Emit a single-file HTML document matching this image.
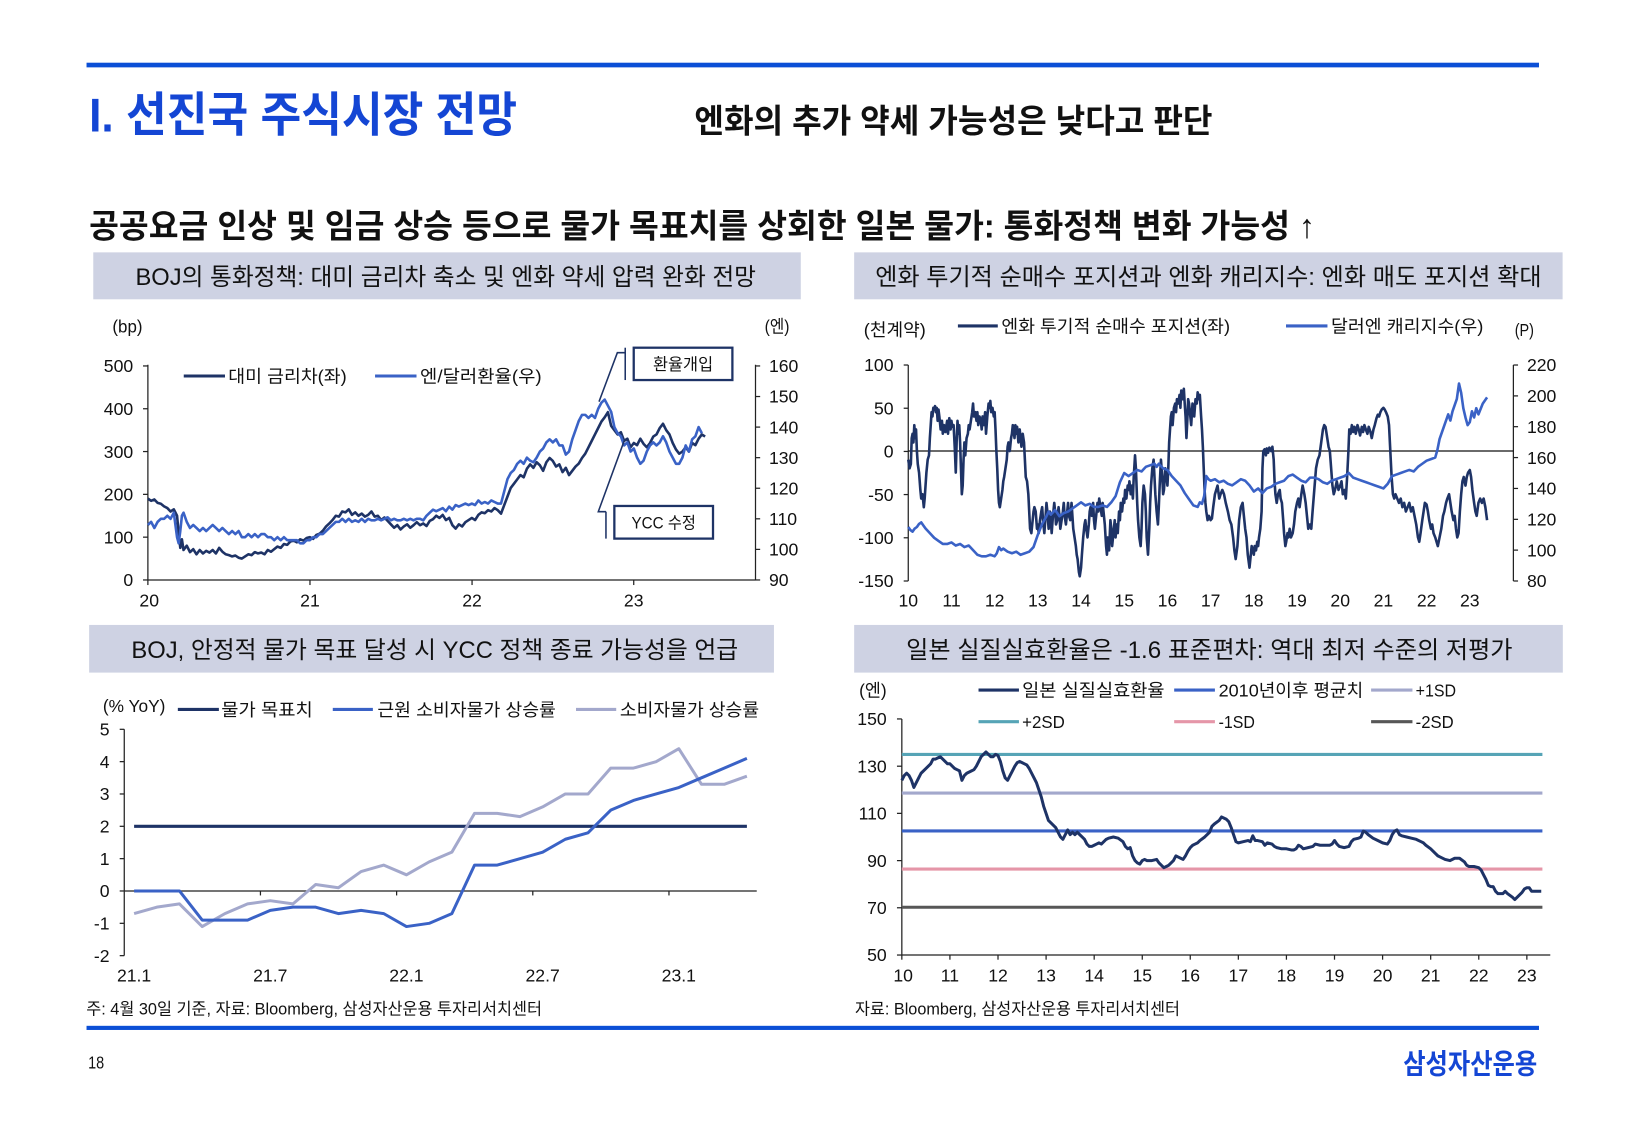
<!DOCTYPE html>
<html><head><meta charset="utf-8"><style>
html,body{margin:0;padding:0;background:#fff;}
svg{display:block;}
text{font-family:"Liberation Sans","Noto Sans CJK KR",sans-serif;fill:#111;}
.t{font-size:17px;}
.k{font-size:17px;}
.hd{font-size:23px;fill:#111;}
.nv{fill:none;stroke:#1e3366;stroke-width:2.6;stroke-linejoin:round;}
.bl{fill:none;stroke:#3a62c6;stroke-width:2.6;stroke-linejoin:round;}
.lt{fill:none;stroke:#a3a8cc;stroke-width:3;stroke-linejoin:round;}
.ax{stroke:#222;stroke-width:1.2;fill:none;}
</style></head><body>
<svg width="1625" height="1125" viewBox="0 0 1568 1085.5" preserveAspectRatio="none" xmlns="http://www.w3.org/2000/svg">
<rect x="0" y="0" width="1568" height="1085.5" fill="#fff"/>
<!-- header -->
<rect x="83.5" y="60.5" width="1401.5" height="4.5" fill="#0b4fd6"/>
<text x="86" y="127" style="font-size:46px;font-weight:700;fill:#1446d4" textLength="413" lengthAdjust="spacingAndGlyphs">I. 선진국 주식시장 전망</text>
<text x="670" y="128" style="font-size:32px;font-weight:700;fill:#111" textLength="500" lengthAdjust="spacingAndGlyphs">엔화의 추가 약세 가능성은 낮다고 판단</text>
<text x="86" y="229" style="font-size:32px;font-weight:700;fill:#111" textLength="1183" lengthAdjust="spacingAndGlyphs">공공요금 인상 및 임금 상승 등으로 물가 목표치를 상회한 일본 물가: 통화정책 변화 가능성 ↑</text>

<!-- panel headers -->
<rect x="90" y="243.5" width="682.7" height="45.3" fill="#ced2e3"/>
<text class="hd" x="130.7" y="275" textLength="598.8" lengthAdjust="spacingAndGlyphs">BOJ의 통화정책: 대미 금리차 축소 및 엔화 약세 압력 완화 전망</text>
<rect x="824.2" y="243.5" width="683.6" height="45.3" fill="#ced2e3"/>
<text class="hd" x="844.5" y="275" textLength="643" lengthAdjust="spacingAndGlyphs">엔화 투기적 순매수 포지션과 엔화 캐리지수: 엔화 매도 포지션 확대</text>
<rect x="86" y="603" width="660.8" height="46" fill="#ced2e3"/>
<text class="hd" x="126.8" y="635" textLength="585.4" lengthAdjust="spacingAndGlyphs">BOJ, 안정적 물가 목표 달성 시 YCC 정책 종료 가능성을 언급</text>
<rect x="824.2" y="603" width="683.8" height="46" fill="#ced2e3"/>
<text class="hd" x="874.4" y="635" textLength="585.1" lengthAdjust="spacingAndGlyphs">일본 실질실효환율은 -1.6 표준편차: 역대 최저 수준의 저평가</text>

<!-- ================= CHART 1 ================= -->
<text class="t" x="108.5" y="321" textLength="29" lengthAdjust="spacingAndGlyphs">(bp)</text>
<text class="t" x="737.8" y="321" textLength="24" lengthAdjust="spacingAndGlyphs">(엔)</text>
<line class="ax" x1="142.7" y1="352" x2="142.7" y2="559.6"/>
<line class="ax" x1="729" y1="352" x2="729" y2="559.6"/>
<line class="ax" x1="142.7" y1="559.6" x2="729" y2="559.6"/>
<g class="ax">
<line x1="138" y1="559.6" x2="142.7" y2="559.6"/><line x1="138" y1="518.3" x2="142.7" y2="518.3"/><line x1="138" y1="477" x2="142.7" y2="477"/><line x1="138" y1="435.7" x2="142.7" y2="435.7"/><line x1="138" y1="394.4" x2="142.7" y2="394.4"/><line x1="138" y1="353.1" x2="142.7" y2="353.1"/>
<line x1="729" y1="559.6" x2="733.5" y2="559.6"/><line x1="729" y1="530.1" x2="733.5" y2="530.1"/><line x1="729" y1="500.6" x2="733.5" y2="500.6"/><line x1="729" y1="471.1" x2="733.5" y2="471.1"/><line x1="729" y1="441.6" x2="733.5" y2="441.6"/><line x1="729" y1="412.1" x2="733.5" y2="412.1"/><line x1="729" y1="382.6" x2="733.5" y2="382.6"/><line x1="729" y1="353.1" x2="733.5" y2="353.1"/>
<line x1="142.7" y1="559.6" x2="142.7" y2="564.5"/><line x1="299.1" y1="559.6" x2="299.1" y2="564.5"/><line x1="455.5" y1="559.6" x2="455.5" y2="564.5"/><line x1="611.5" y1="559.6" x2="611.5" y2="564.5"/>
</g>
<g class="t" text-anchor="end">
<text x="128.5" y="565.6">0</text><text x="128.5" y="524.3">100</text><text x="128.5" y="483">200</text><text x="128.5" y="441.7">300</text><text x="128.5" y="400.4">400</text><text x="128.5" y="359.1">500</text>
</g>
<g class="t">
<text x="742" y="565.6">90</text><text x="742" y="536.1">100</text><text x="742" y="506.6">110</text><text x="742" y="477.1">120</text><text x="742" y="447.6">130</text><text x="742" y="418.1">140</text><text x="742" y="388.6">150</text><text x="742" y="359.1">160</text>
</g>
<g class="t" text-anchor="middle">
<text x="144" y="585">20</text><text x="299.1" y="585">21</text><text x="455.5" y="585">22</text><text x="611.5" y="585">23</text>
</g>
<line x1="177.3" y1="362.8" x2="217.1" y2="362.8" stroke="#1e3366" stroke-width="3"/>
<text class="k" x="220.3" y="369" textLength="114.3" lengthAdjust="spacingAndGlyphs">대미 금리차(좌)</text>
<line x1="361.9" y1="362.8" x2="401.9" y2="362.8" stroke="#3a62c6" stroke-width="3"/>
<text class="k" x="405.3" y="369" textLength="117.4" lengthAdjust="spacingAndGlyphs">엔/달러환율(우)</text>
<polyline class="nv" vector-effect="non-scaling-stroke" transform="translate(142.7,559.6) scale(156.3,-0.413)" points="0,190 .02,185 .04,188 .06,180 .08,178 .1,172 .12,168 .14,160 .16,165 .18,150 .19,110 .2,75 .21,95 .22,70 .24,80 .26,65 .28,72 .3,60 .32,70 .34,62 .36,68 .38,64 .4,70 .42,62 .44,75 .46,66 .48,60 .5,58 .52,55 .54,57 .56,52 .58,50 .6,55 .62,60 .64,58 .66,65 .68,62 .7,64 .72,60 .74,70 .76,66 .78,72 .8,78 .82,75 .84,84 .86,82 .88,90 .9,92 .92,88 .94,95 .96,92 .98,98 1.0,100 1.02,96 1.04,105 1.06,108 1.08,115 1.1,125 1.12,132 1.14,140 1.16,150 1.18,148 1.2,160 1.22,158 1.24,165 1.26,152 1.28,158 1.3,150 1.32,155 1.34,148 1.36,152 1.38,160 1.4,148 1.42,150 1.44,140 1.46,146 1.48,138 1.5,130 1.52,122 1.54,128 1.56,118 1.58,125 1.6,130 1.62,122 1.64,128 1.66,135 1.68,128 1.7,132 1.72,126 1.74,138 1.76,142 1.78,150 1.8,145 1.82,152 1.84,140 1.86,145 1.88,128 1.9,120 1.92,130 1.94,125 1.96,135 1.98,140 2.0,145 2.02,140 2.04,152 2.06,158 2.08,156 2.1,163 2.12,160 2.14,168 2.16,163 2.18,155 2.2,175 2.22,195 2.24,215 2.26,225 2.28,235 2.3,245 2.32,240 2.34,260 2.36,270 2.38,262 2.4,275 2.42,268 2.44,255 2.46,275 2.48,285 2.5,278 2.52,265 2.54,270 2.56,252 2.58,262 2.6,245 2.62,255 2.64,265 2.66,272 2.68,285 2.7,295 2.72,310 2.74,325 2.76,340 2.78,355 2.8,370 2.82,380 2.84,392 2.86,360 2.88,350 2.9,340 2.92,345 2.94,325 2.96,330 2.98,310 3.0,320 3.02,315 3.04,330 3.06,318 3.08,310 3.1,320 3.12,335 3.14,340 3.16,355 3.18,365 3.2,350 3.22,340 3.24,320 3.26,305 3.28,295 3.3,300 3.32,310 3.34,300 3.36,320 3.38,315 3.4,330 3.42,340 3.44,335"/>
<polyline class="bl" vector-effect="non-scaling-stroke" transform="translate(142.7,559.6) scale(156.3,-2.95)" points="0,18 .02,19 .04,17 .06,19 .08,20 .1,20 .12,21 .14,20 .16,22 .18,14 .19,12 .2,16 .21,21 .22,22 .24,19 .26,17 .28,18 .3,17 .32,16 .34,17 .36,16 .38,17 .4,18 .42,17 .44,16 .46,17 .48,16 .5,15 .52,16 .54,15 .56,16 .58,14 .6,14 .62,15 .64,14 .66,15 .68,14 .7,15 .72,15 .74,14 .76,14 .78,13 .8,14 .82,13 .84,14 .86,13 .88,13 .9,13 .92,13 .94,12 .96,12 .98,13 1.0,13 1.02,14 1.04,14 1.06,15 1.08,15 1.1,16 1.12,17 1.14,18 1.16,19 1.18,19 1.2,20 1.22,19 1.24,20 1.26,19 1.28,19.5 1.3,19 1.32,20 1.34,19 1.36,20 1.38,19.5 1.4,19.5 1.42,20 1.44,19.5 1.46,20 1.48,20.5 1.5,19.5 1.52,20 1.54,19.5 1.56,19.5 1.58,20 1.6,19.5 1.62,20 1.64,19.5 1.66,20 1.68,20 1.7,19.5 1.72,21 1.74,22 1.76,23 1.78,22.5 1.8,23 1.82,23.5 1.84,22.5 1.86,24 1.88,23 1.9,24.5 1.92,24 1.94,24.5 1.96,25 1.98,24.5 2.0,25 2.02,24.5 2.04,26 2.06,25 2.08,25.5 2.1,25 2.12,26 2.14,25.5 2.16,25 2.18,25 2.2,29 2.22,33 2.24,35 2.26,36 2.28,38 2.3,39 2.32,38 2.34,40 2.36,39 2.38,38.5 2.4,40 2.42,42 2.44,43 2.46,45 2.48,46 2.5,45 2.52,46 2.54,44 2.56,44 2.58,41 2.6,42 2.62,46 2.64,49 2.66,52 2.68,54 2.7,54 2.72,53 2.74,54 2.76,53 2.78,56 2.8,58 2.82,59 2.84,57 2.86,55 2.88,50 2.9,48 2.92,47 2.94,44 2.96,45 2.98,42 3.0,43 3.02,40 3.04,38 3.06,39 3.08,42 3.1,44 3.12,45 3.14,44 3.16,45 3.18,47 3.2,45 3.22,42 3.24,40 3.26,38 3.28,38 3.3,40 3.32,44 3.34,42 3.36,46 3.38,47 3.4,50 3.42,48"/>
<!-- callouts -->
<rect x="611.5" y="335.5" width="95.2" height="31.2" fill="#fff" stroke="#1e3366" stroke-width="2.2"/>
<text x="659.1" y="357" text-anchor="middle" style="font-size:16px" textLength="58" lengthAdjust="spacingAndGlyphs">환율개입</text>
<line x1="603.3" y1="335.5" x2="603.3" y2="366.7" stroke="#1e3366" stroke-width="1.5"/>
<polyline points="603.3,340.3 595.7,340.3 578,387.6" fill="none" stroke="#1e3366" stroke-width="1.5"/>
<rect x="592.8" y="488.2" width="95.2" height="31.5" fill="#fff" stroke="#1e3366" stroke-width="2.2"/>
<text x="640.4" y="510" text-anchor="middle" style="font-size:16px" textLength="62" lengthAdjust="spacingAndGlyphs">YCC 수정</text>
<line x1="584.7" y1="493.7" x2="584.7" y2="519.7" stroke="#1e3366" stroke-width="1.5"/>
<polyline points="584.7,493.7 577.3,493.7 602.6,424.5" fill="none" stroke="#1e3366" stroke-width="1.5"/>

<!-- ================= CHART 2 ================= -->
<text class="t" x="833.5" y="324" textLength="59.8" lengthAdjust="spacingAndGlyphs">(천계약)</text>
<text class="t" x="1461.6" y="324" textLength="18.6" lengthAdjust="spacingAndGlyphs">(P)</text>
<line x1="924.3" y1="314.5" x2="962.8" y2="314.5" stroke="#1e3366" stroke-width="3"/>
<text class="k" x="966.3" y="321" textLength="220.6" lengthAdjust="spacingAndGlyphs">엔화 투기적 순매수 포지션(좌)</text>
<line x1="1240.9" y1="314.5" x2="1280.9" y2="314.5" stroke="#3a62c6" stroke-width="3"/>
<text class="k" x="1284.3" y="321" textLength="147" lengthAdjust="spacingAndGlyphs">달러엔 캐리지수(우)</text>
<line class="ax" x1="876.4" y1="352.2" x2="876.4" y2="560.6"/>
<line class="ax" x1="1460.3" y1="352.2" x2="1460.3" y2="560.6"/>
<line x1="876.4" y1="435.2" x2="1460.3" y2="435.2" stroke="#111" stroke-width="1.2"/>
<g class="ax">
<line x1="872" y1="352.2" x2="876.4" y2="352.2"/><line x1="872" y1="393.9" x2="876.4" y2="393.9"/><line x1="872" y1="435.6" x2="876.4" y2="435.6"/><line x1="872" y1="477.2" x2="876.4" y2="477.2"/><line x1="872" y1="518.9" x2="876.4" y2="518.9"/><line x1="872" y1="560.6" x2="876.4" y2="560.6"/>
<line x1="1460.3" y1="352.2" x2="1464.8" y2="352.2"/><line x1="1460.3" y1="382" x2="1464.8" y2="382"/><line x1="1460.3" y1="411.7" x2="1464.8" y2="411.7"/><line x1="1460.3" y1="441.5" x2="1464.8" y2="441.5"/><line x1="1460.3" y1="471.3" x2="1464.8" y2="471.3"/><line x1="1460.3" y1="501.1" x2="1464.8" y2="501.1"/><line x1="1460.3" y1="530.8" x2="1464.8" y2="530.8"/><line x1="1460.3" y1="560.6" x2="1464.8" y2="560.6"/>
</g>
<g class="t" text-anchor="end">
<text x="862.2" y="358.2">100</text><text x="862.2" y="399.9">50</text><text x="862.2" y="441.6">0</text><text x="862.2" y="483.2">-50</text><text x="862.2" y="524.9">-100</text><text x="862.2" y="566.6">-150</text>
</g>
<g class="t">
<text x="1473.4" y="358.2">220</text><text x="1473.4" y="388">200</text><text x="1473.4" y="417.7">180</text><text x="1473.4" y="447.5">160</text><text x="1473.4" y="477.3">140</text><text x="1473.4" y="507.1">120</text><text x="1473.4" y="536.8">100</text><text x="1473.4" y="566.6">80</text>
</g>
<g class="t" text-anchor="middle">
<text x="876.4" y="585">10</text><text x="918.1" y="585">11</text><text x="959.8" y="585">12</text><text x="1001.4" y="585">13</text><text x="1043.1" y="585">14</text><text x="1084.8" y="585">15</text><text x="1126.5" y="585">16</text><text x="1168.2" y="585">17</text><text x="1209.8" y="585">18</text><text x="1251.5" y="585">19</text><text x="1293.2" y="585">20</text><text x="1334.9" y="585">21</text><text x="1376.6" y="585">22</text><text x="1418.2" y="585">23</text>
</g>
<polyline class="nv" vector-effect="non-scaling-stroke" transform="translate(876.4,435.2) scale(41.68,-0.8336)" points="0,-10 .03,-20 .06,-15 .08,15 .1,20 .12,10 .14,30 .16,15 .18,25 .2,0 .22,-15 .25,-25 .28,-45 .3,-55 .33,-50 .36,-65 .38,-55 .4,-40 .42,-25 .45,-10 .48,-5 .5,15 .52,30 .54,45 .56,40 .58,50 .6,48 .62,52 .64,45 .66,50 .68,35 .7,48 .72,40 .75,25 .78,35 .8,20 .83,30 .86,22 .9,35 .92,20 .95,38 .98,25 1.0,35 1.02,28 1.05,30 1.08,0 1.1,-25 1.12,10 1.14,35 1.16,20 1.18,30 1.2,10 1.22,-20 1.24,-50 1.26,-40 1.28,-10 1.3,10 1.32,-5 1.35,15 1.38,20 1.4,30 1.42,25 1.45,35 1.48,45 1.5,55 1.52,40 1.55,45 1.58,35 1.6,45 1.62,30 1.65,40 1.68,35 1.7,25 1.72,40 1.75,30 1.78,45 1.8,20 1.83,40 1.86,55 1.88,50 1.9,58 1.92,45 1.95,50 1.98,40 2.0,45 2.02,25 2.04,0 2.06,-20 2.08,-45 2.1,-60 2.12,-65 2.15,-55 2.18,-45 2.2,-35 2.22,-30 2.25,-20 2.28,-10 2.3,5 2.32,10 2.35,0 2.38,15 2.4,20 2.42,30 2.44,25 2.46,15 2.48,30 2.5,20 2.52,28 2.55,10 2.58,25 2.6,15 2.62,5 2.65,20 2.68,10 2.7,-10 2.72,-30 2.75,-35 2.78,-50 2.8,-70 2.82,-90 2.85,-95 2.88,-80 2.9,-70 2.92,-65 2.95,-70 2.98,-90 3.0,-85 3.02,-95 3.05,-80 3.08,-70 3.1,-65 3.12,-80 3.15,-95 3.18,-75 3.2,-60 3.22,-70 3.25,-90 3.28,-70 3.3,-80 3.32,-95 3.35,-75 3.38,-60 3.4,-70 3.42,-85 3.45,-80 3.48,-65 3.5,-75 3.52,-90 3.55,-80 3.58,-70 3.6,-60 3.62,-75 3.65,-85 3.68,-70 3.7,-60 3.72,-75 3.75,-80 3.78,-60 3.8,-75 3.82,-90 3.85,-100 3.88,-110 3.9,-120 3.92,-125 3.95,-140 3.97,-145 4.0,-135 4.02,-120 4.05,-100 4.08,-85 4.1,-80 4.12,-90 4.15,-100 4.18,-85 4.2,-70 4.22,-65 4.25,-75 4.28,-60 4.3,-80 4.32,-90 4.35,-75 4.38,-60 4.4,-70 4.42,-55 4.45,-65 4.48,-75 4.5,-60 4.52,-70 4.55,-85 4.58,-110 4.6,-120 4.62,-100 4.65,-115 4.68,-80 4.7,-90 4.72,-110 4.75,-95 4.78,-80 4.8,-100 4.82,-85 4.85,-95 4.88,-70 4.9,-80 4.92,-60 4.95,-70 4.98,-55 5.0,-60 5.02,-45 5.05,-55 5.08,-40 5.1,-45 5.12,-35 5.15,-50 5.18,-40 5.2,-55 5.22,-30 5.25,-5 5.27,-20 5.3,-60 5.32,-80 5.35,-100 5.38,-110 5.4,-90 5.42,-60 5.45,-40 5.48,-50 5.5,-70 5.52,-100 5.55,-120 5.58,-90 5.6,-60 5.62,-40 5.65,-20 5.68,-10 5.7,-30 5.72,-50 5.75,-70 5.78,-85 5.8,-65 5.82,-40 5.85,-10 5.88,-30 5.9,-50 5.92,-45 5.95,-20 5.98,-30 6.0,-40 6.02,-20 6.04,10 6.06,25 6.08,40 6.1,45 6.12,30 6.15,50 6.18,55 6.2,45 6.22,60 6.25,55 6.28,65 6.3,50 6.32,70 6.35,60 6.38,72 6.4,55 6.42,40 6.44,15 6.46,35 6.48,60 6.5,55 6.52,45 6.55,30 6.58,55 6.6,50 6.62,40 6.65,60 6.68,55 6.7,68 6.72,60 6.75,65 6.78,40 6.8,25 6.82,5 6.84,-20 6.86,-45 6.88,-60 6.9,-70 6.93,-80 6.96,-75 7.0,-80 7.03,-78 7.06,-65 7.1,-50 7.13,-45 7.16,-40 7.2,-55 7.23,-50 7.27,-45 7.31,-50 7.35,-60 7.4,-70 7.44,-80 7.48,-85 7.52,-100 7.55,-115 7.58,-125 7.62,-110 7.66,-80 7.7,-65 7.74,-60 7.77,-75 7.8,-90 7.83,-100 7.86,-120 7.9,-135 7.92,-125 7.95,-110 7.98,-115 8.0,-120 8.02,-110 8.05,-115 8.08,-105 8.1,-110 8.12,-100 8.15,-90 8.18,-70 8.2,-20 8.22,0 8.25,2 8.28,-5 8.3,3 8.33,-2 8.36,4 8.4,0 8.43,5 8.46,-10 8.48,-35 8.5,-50 8.53,-60 8.56,-50 8.6,-45 8.62,-55 8.65,-60 8.68,-80 8.7,-95 8.73,-110 8.75,-105 8.78,-95 8.8,-100 8.83,-90 8.86,-100 8.9,-95 8.93,-85 8.96,-70 9.0,-60 9.03,-55 9.06,-65 9.1,-50 9.13,-40 9.17,-50 9.2,-60 9.23,-75 9.26,-90 9.3,-85 9.33,-90 9.36,-70 9.4,-45 9.44,-20 9.48,-10 9.52,-5 9.56,10 9.6,25 9.63,30 9.66,28 9.7,15 9.73,5 9.76,0 9.79,-20 9.82,-40 9.85,-50 9.88,-45 9.92,-35 9.96,-45 10.0,-40 10.03,-35 10.06,-50 10.1,-45 10.13,-55 10.16,-30 10.19,0 10.21,25 10.24,20 10.27,30 10.3,22 10.33,28 10.36,20 10.4,30 10.43,25 10.46,18 10.5,28 10.53,22 10.56,30 10.6,24 10.63,20 10.66,28 10.7,22 10.73,15 10.77,25 10.8,30 10.84,38 10.87,42 10.9,40 10.93,45 10.96,48 11.0,50 11.03,48 11.06,45 11.1,40 11.13,30 11.16,0 11.19,-30 11.22,-50 11.25,-55 11.28,-50 11.32,-55 11.36,-60 11.4,-55 11.44,-65 11.48,-60 11.52,-70 11.56,-65 11.6,-60 11.64,-70 11.68,-65 11.72,-75 11.76,-85 11.8,-100 11.83,-105 11.86,-95 11.9,-80 11.93,-70 11.96,-60 12.0,-62 12.03,-70 12.06,-80 12.1,-90 12.13,-85 12.16,-95 12.2,-100 12.23,-105 12.26,-110 12.3,-100 12.34,-90 12.38,-75 12.41,-70 12.45,-60 12.48,-55 12.52,-50 12.55,-60 12.58,-70 12.62,-80 12.65,-75 12.68,-90 12.71,-100 12.74,-95 12.77,-70 12.8,-50 12.83,-35 12.86,-30 12.9,-40 12.93,-30 12.96,-25 13.0,-22 13.03,-30 13.06,-45 13.1,-60 13.13,-70 13.16,-75 13.2,-60 13.24,-55 13.28,-60 13.32,-55 13.36,-65 13.4,-80"/>
<polyline class="bl" vector-effect="non-scaling-stroke" transform="translate(876.4,560.6) scale(41.68,-1.4886)" points="0,35 .05,33 .1,32 .15,34 .2,35 .25,37 .3,38 .35,36 .4,34 .5,31 .6,28 .7,26 .8,24 .9,24 1.0,25 1.1,23 1.2,24 1.3,22 1.4,23 1.5,20 1.6,17 1.7,16 1.8,16 1.9,17 2.0,16 2.05,18 2.1,22 2.15,20 2.2,21 2.3,19 2.4,18 2.5,19 2.6,17 2.7,18 2.8,19 2.9,22 3.0,30 3.1,37 3.2,42 3.25,45 3.3,43 3.4,46 3.5,42 3.6,44 3.7,45 3.8,47 3.9,49 4.0,51 4.1,49 4.2,50 4.3,48 4.4,48 4.5,49 4.6,48 4.7,51 4.8,55 4.9,64 5.0,70 5.1,68 5.2,70 5.3,72 5.4,71 5.5,74 5.6,75 5.7,76 5.75,74 5.8,76 5.9,73 6.0,72 6.1,68 6.2,65 6.3,62 6.4,57 6.5,53 6.6,49 6.7,48 6.75,51 6.8,50 6.85,55 6.9,68 6.95,66 7.0,65 7.1,66 7.2,64 7.3,65 7.4,63 7.5,62 7.6,64 7.7,66 7.8,65 7.9,62 8.0,58 8.1,60 8.2,57 8.3,60 8.4,61 8.5,63 8.6,64 8.7,65 8.8,68 8.9,69 9.0,67 9.1,65 9.2,64 9.3,67 9.4,67 9.5,66 9.6,64 9.7,63 9.8,65 9.9,66 10.0,67 10.1,68 10.2,70 10.3,67 10.4,66 10.5,65 10.6,64 10.7,63 10.8,62 10.9,61 11.0,60 11.1,63 11.2,68 11.3,69 11.4,70 11.5,71 11.6,72 11.7,71 11.8,74 11.9,76 12.0,78 12.1,79 12.2,80 12.25,85 12.3,92 12.4,100 12.5,108 12.55,104 12.6,110 12.7,118 12.75,128 12.8,122 12.85,112 12.9,106 12.95,101 13.0,103 13.05,110 13.1,106 13.15,112 13.2,108 13.3,115 13.4,119"/>

<!-- ================= CHART 3 ================= -->
<text class="t" x="99.3" y="687" textLength="60.3" lengthAdjust="spacingAndGlyphs">(% YoY)</text>
<line x1="171.6" y1="684.5" x2="211.2" y2="684.5" stroke="#1e3366" stroke-width="3"/>
<text class="k" x="213.5" y="691" textLength="88.3" lengthAdjust="spacingAndGlyphs">물가 목표치</text>
<line x1="321.1" y1="684.5" x2="359.8" y2="684.5" stroke="#3a62c6" stroke-width="3"/>
<text class="k" x="364.1" y="691" textLength="172.3" lengthAdjust="spacingAndGlyphs">근원 소비자물가 상승률</text>
<line x1="555.8" y1="684.5" x2="594.6" y2="684.5" stroke="#a3a8cc" stroke-width="3"/>
<text class="k" x="598.1" y="691" textLength="134.4" lengthAdjust="spacingAndGlyphs">소비자물가 상승률</text>
<line class="ax" x1="119.9" y1="703.7" x2="119.9" y2="922.1"/>
<line class="ax" x1="119.9" y1="859.7" x2="730.2" y2="859.7"/>
<g class="ax">
<line x1="115.5" y1="703.7" x2="119.9" y2="703.7"/><line x1="115.5" y1="734.9" x2="119.9" y2="734.9"/><line x1="115.5" y1="766.1" x2="119.9" y2="766.1"/><line x1="115.5" y1="797.3" x2="119.9" y2="797.3"/><line x1="115.5" y1="828.5" x2="119.9" y2="828.5"/><line x1="115.5" y1="859.7" x2="119.9" y2="859.7"/><line x1="115.5" y1="890.9" x2="119.9" y2="890.9"/><line x1="115.5" y1="922.1" x2="119.9" y2="922.1"/>
<line x1="251.3" y1="859.7" x2="251.3" y2="864"/><line x1="382.7" y1="859.7" x2="382.7" y2="864"/><line x1="514.1" y1="859.7" x2="514.1" y2="864"/><line x1="645.5" y1="859.7" x2="645.5" y2="864"/>
</g>
<g class="t" text-anchor="end">
<text x="105.7" y="709.7">5</text><text x="105.7" y="740.9">4</text><text x="105.7" y="772.1">3</text><text x="105.7" y="803.3">2</text><text x="105.7" y="834.5">1</text><text x="105.7" y="865.7">0</text><text x="105.7" y="896.9">-1</text><text x="105.7" y="928.1">-2</text>
</g>
<g class="t" text-anchor="middle">
<text x="129.4" y="947">21.1</text><text x="260.8" y="947">21.7</text><text x="392.2" y="947">22.1</text><text x="523.6" y="947">22.7</text><text x="655" y="947">23.1</text>
</g>
<line x1="129.4" y1="797.3" x2="720.7" y2="797.3" stroke="#1e3366" stroke-width="3"/>
<polyline class="lt" vector-effect="non-scaling-stroke" transform="translate(129.4,859.7) scale(21.9,-31.2)" points="0,-0.7 1,-0.5 2,-0.4 3,-1.1 4,-0.7 5,-0.4 6,-0.3 7,-0.4 8,0.2 9,0.1 10,0.6 11,0.8 12,0.5 13,0.9 14,1.2 15,2.4 16,2.4 17,2.3 18,2.6 19,3.0 20,3.0 21,3.8 22,3.8 23,4.0 24,4.4 25,3.3 26,3.3 27,3.55"/>
<polyline class="bl" style="stroke-width:3" vector-effect="non-scaling-stroke" transform="translate(129.4,859.7) scale(21.9,-31.2)" points="0,0 1,0 2,0 3,-0.9 4,-0.9 5,-0.9 6,-0.6 7,-0.5 8,-0.5 9,-0.7 10,-0.6 11,-0.7 12,-1.1 13,-1.0 14,-0.7 15,0.8 16,0.8 17,1.0 18,1.2 19,1.6 20,1.8 21,2.5 22,2.8 23,3.0 24,3.2 25,3.5 26,3.8 27,4.1"/>

<!-- ================= CHART 4 ================= -->
<text class="t" x="829" y="672" textLength="26.6" lengthAdjust="spacingAndGlyphs">(엔)</text>
<line x1="944.2" y1="665.8" x2="983.2" y2="665.8" stroke="#1e3366" stroke-width="3"/>
<text class="k" x="986.3" y="672" textLength="137.4" lengthAdjust="spacingAndGlyphs">일본 실질실효환율</text>
<line x1="1133" y1="665.8" x2="1172.3" y2="665.8" stroke="#3a62c6" stroke-width="3"/>
<text class="k" x="1175.9" y="672" textLength="139.5" lengthAdjust="spacingAndGlyphs">2010년이후 평균치</text>
<line x1="1323" y1="665.8" x2="1362.9" y2="665.8" stroke="#a3a8cc" stroke-width="3"/>
<text class="k" x="1366" y="672" textLength="39" lengthAdjust="spacingAndGlyphs">+1SD</text>
<line x1="944.2" y1="696.3" x2="983.2" y2="696.3" stroke="#56a4b6" stroke-width="3"/>
<text class="k" x="986.3" y="702.5" textLength="41.2" lengthAdjust="spacingAndGlyphs">+2SD</text>
<line x1="1133" y1="696.3" x2="1172.3" y2="696.3" stroke="#e596a8" stroke-width="3"/>
<text class="k" x="1175.9" y="702.5" textLength="35" lengthAdjust="spacingAndGlyphs">-1SD</text>
<line x1="1323" y1="696.3" x2="1362.9" y2="696.3" stroke="#575757" stroke-width="3"/>
<text class="k" x="1366" y="702.5" textLength="36.7" lengthAdjust="spacingAndGlyphs">-2SD</text>
<line class="ax" x1="870.2" y1="693.7" x2="870.2" y2="921.5"/>
<line class="ax" x1="870.2" y1="921.5" x2="1495.9" y2="921.5"/>
<g class="ax">
<line x1="865.5" y1="693.7" x2="870.2" y2="693.7"/><line x1="865.5" y1="739.3" x2="870.2" y2="739.3"/><line x1="865.5" y1="784.8" x2="870.2" y2="784.8"/><line x1="865.5" y1="830.4" x2="870.2" y2="830.4"/><line x1="865.5" y1="875.9" x2="870.2" y2="875.9"/><line x1="865.5" y1="921.5" x2="870.2" y2="921.5"/>
<line x1="870.2" y1="921.5" x2="870.2" y2="926"/><line x1="916.6" y1="921.5" x2="916.6" y2="926"/><line x1="963" y1="921.5" x2="963" y2="926"/><line x1="1009.4" y1="921.5" x2="1009.4" y2="926"/><line x1="1055.8" y1="921.5" x2="1055.8" y2="926"/><line x1="1102.2" y1="921.5" x2="1102.2" y2="926"/><line x1="1148.5" y1="921.5" x2="1148.5" y2="926"/><line x1="1194.9" y1="921.5" x2="1194.9" y2="926"/><line x1="1241.3" y1="921.5" x2="1241.3" y2="926"/><line x1="1287.7" y1="921.5" x2="1287.7" y2="926"/><line x1="1334.1" y1="921.5" x2="1334.1" y2="926"/><line x1="1380.5" y1="921.5" x2="1380.5" y2="926"/><line x1="1426.9" y1="921.5" x2="1426.9" y2="926"/><line x1="1473.3" y1="921.5" x2="1473.3" y2="926"/>
</g>
<g class="t" text-anchor="end">
<text x="855.6" y="699.7">150</text><text x="855.6" y="745.3">130</text><text x="855.6" y="790.8">110</text><text x="855.6" y="836.4">90</text><text x="855.6" y="881.9">70</text><text x="855.6" y="927.5">50</text>
</g>
<g class="t" text-anchor="middle">
<text x="871.5" y="947">10</text><text x="916.6" y="947">11</text><text x="963" y="947">12</text><text x="1009.4" y="947">13</text><text x="1055.8" y="947">14</text><text x="1102.2" y="947">15</text><text x="1148.5" y="947">16</text><text x="1194.9" y="947">17</text><text x="1241.3" y="947">18</text><text x="1287.7" y="947">19</text><text x="1334.1" y="947">20</text><text x="1380.5" y="947">21</text><text x="1426.9" y="947">22</text><text x="1473.3" y="947">23</text>
</g>
<line x1="870.2" y1="727.9" x2="1488.3" y2="727.9" stroke="#56a4b6" stroke-width="3"/>
<line x1="870.2" y1="765.2" x2="1488.3" y2="765.2" stroke="#a3a8cc" stroke-width="3"/>
<line x1="870.2" y1="801.8" x2="1488.3" y2="801.8" stroke="#3a62c6" stroke-width="3"/>
<line x1="870.2" y1="838.5" x2="1488.3" y2="838.5" stroke="#e596a8" stroke-width="3"/>
<line x1="870.2" y1="875.4" x2="1488.3" y2="875.4" stroke="#575757" stroke-width="3"/>
<polyline class="nv" style="stroke-width:3" vector-effect="non-scaling-stroke" transform="translate(870.2,921.5) scale(46.39,-2.278)" points="0,74 .05,76 .1,77 .15,76 .2,74 .25,71 .3,73 .35,75 .4,77 .5,79 .6,81 .65,83 .7,83 .75,83.5 .8,84 .85,83 .9,82 .95,81 1.0,81 1.05,80 1.1,79 1.15,78.5 1.2,78 1.25,74 1.3,76 1.35,77 1.45,78 1.5,78.5 1.55,80 1.6,82 1.65,84 1.7,85 1.75,86 1.8,85 1.85,84 1.9,84 1.95,85 2.0,84.5 2.05,82 2.1,78 2.15,75 2.2,74 2.25,76 2.3,78 2.35,80 2.4,81.5 2.45,82 2.5,81.5 2.55,81 2.6,80.5 2.65,79 2.7,77 2.75,75 2.8,73 2.85,70 2.9,67 2.95,63 3.0,60 3.05,57 3.1,56 3.15,55 3.2,54 3.25,52 3.3,50 3.35,49 3.4,51 3.45,53 3.5,51 3.55,52 3.6,51 3.65,52 3.7,51 3.75,50 3.8,49 3.85,47 3.9,46 3.95,46 4.0,46.5 4.05,47 4.1,47.5 4.15,47 4.2,48 4.25,49 4.3,49.5 4.4,50 4.5,49.5 4.6,48 4.65,46 4.7,45 4.75,45.5 4.8,42 4.85,40 4.9,39 4.95,38.5 5.0,40 5.05,40.5 5.1,40 5.2,40 5.3,40.5 5.35,39 5.4,38 5.45,37 5.5,37.5 5.55,38 5.6,39 5.65,40 5.7,42 5.75,41.5 5.8,41 5.85,40.5 5.9,42 5.95,44 6.0,45.5 6.05,46.5 6.1,47 6.15,47.5 6.2,48.5 6.3,50 6.4,52 6.45,54.5 6.5,55.5 6.6,57 6.65,58.5 6.7,58 6.75,57.5 6.8,56.5 6.85,54 6.9,51 6.95,48 7.0,47.5 7.1,48 7.2,48.5 7.25,48 7.3,50.5 7.35,48.5 7.4,48.5 7.5,48 7.55,46.5 7.6,47.5 7.7,47 7.75,46 7.8,45.5 7.9,45 8.0,45 8.1,44.5 8.15,44.5 8.2,45 8.25,46.5 8.3,46 8.35,45 8.45,45.5 8.55,46 8.6,47 8.7,46.5 8.8,46.5 8.9,46.5 8.95,47 9.0,48.5 9.05,47 9.1,46 9.2,45.5 9.3,46 9.35,48 9.4,49 9.5,49.5 9.55,50 9.6,52.5 9.65,52 9.7,51 9.8,49.5 9.9,48.5 10.0,47.5 10.1,47 10.15,48.5 10.2,51 10.25,52.5 10.3,53 10.35,51 10.4,50.5 10.5,50 10.6,49.5 10.7,49 10.8,48 10.85,47.5 10.9,46.5 11.0,45 11.1,43 11.15,42 11.2,41.5 11.3,40.5 11.4,40 11.5,41 11.6,41 11.7,39.5 11.75,38 11.8,37.5 11.9,37.5 12.0,37 12.05,36 12.1,34 12.15,32 12.2,29.5 12.25,29 12.3,29 12.35,27 12.4,26 12.5,26 12.55,27 12.6,26 12.7,24.5 12.75,23.5 12.8,24.5 12.9,26.5 12.95,28 13.0,28.5 13.05,28.5 13.1,27 13.15,27 13.2,27 13.3,27"/>

<!-- footer -->
<text x="83.2" y="979" style="font-size:16px" textLength="439.8" lengthAdjust="spacingAndGlyphs">주: 4월 30일 기준, 자료: Bloomberg, 삼성자산운용 투자리서치센터</text>
<text x="825" y="979" style="font-size:16px" textLength="313.6" lengthAdjust="spacingAndGlyphs">자료: Bloomberg, 삼성자산운용 투자리서치센터</text>
<rect x="83.5" y="989.8" width="1401.5" height="4" fill="#0b4fd6"/>
<text x="85" y="1031" style="font-size:17px" textLength="15.5" lengthAdjust="spacingAndGlyphs">18</text>
<text x="1354" y="1036" style="font-size:27px;font-weight:700;fill:#1446d4" textLength="129.3" lengthAdjust="spacingAndGlyphs">삼성자산운용</text>
</svg>
</body></html>
